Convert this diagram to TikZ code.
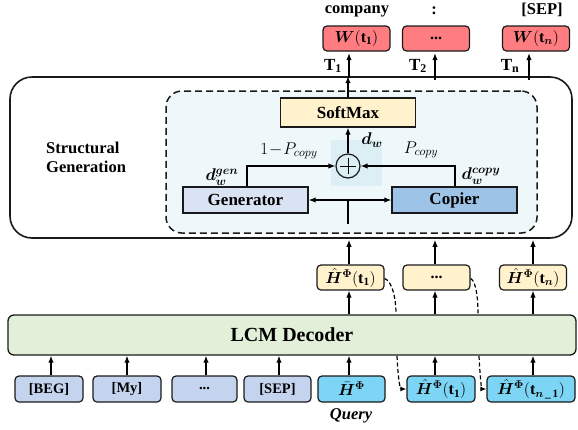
\documentclass[tikz,border=0pt]{standalone}
\usepackage{fix-cm}
\usepackage{amsmath,bm}
\usepackage{fontspec}
\setmainfont{Liberation Serif}
\usetikzlibrary{arrows.meta}

\definecolor{redbox}{HTML}{FF7C80}
\definecolor{sandbox}{HTML}{FFF2CC}
\definecolor{decoder}{HTML}{E2F0D9}
\definecolor{tokenbox}{HTML}{C5D4EE}
\definecolor{querybox}{HTML}{7DD5F6}
\definecolor{corefill}{HTML}{EEF7FA}
\definecolor{sumfill}{HTML}{DCEFF5}
\definecolor{genfill}{HTML}{DAE3F3}
\definecolor{copfill}{HTML}{9DC3E6}
\definecolor{edge}{HTML}{1A1A1A}

\tikzset{
  blk/.style={draw=edge, line width=1.2pt, rounded corners=4pt, inner sep=0pt,
    minimum height=25pt, font=\fontsize{16}{19}\selectfont\bfseries},
  flatblk/.style={draw=edge, line width=1.3pt, inner sep=0pt,
    font=\fontsize{17}{20}\selectfont\bfseries},
  tok/.style={blk, fill=tokenbox, minimum width=68pt, minimum height=26pt,
    font=\fontsize{14.5}{17}\selectfont\bfseries},
  qtok/.style={tok, fill=querybox, font=\fontsize{16}{18}\selectfont},
  hid/.style={blk, fill=sandbox, minimum width=67pt, font=\fontsize{16}{18}\selectfont},
  outb/.style={blk, fill=redbox, minimum width=67pt, font=\fontsize{16}{18}\selectfont},
  lbl/.style={inner sep=0pt, font=\fontsize{16.5}{19}\selectfont\bfseries},
  mlbl/.style={inner sep=0pt, font=\fontsize{17}{20}\selectfont},
  arr/.style={-{Latex[length=7pt,width=5.5pt]}, line width=1.3pt},
  dasharr/.style={-{Latex[length=6pt,width=5pt]}, line width=1.2pt, dash pattern=on 4pt off 2.5pt},
  dashline/.style={line width=1.2pt, dash pattern=on 4pt off 2.5pt},
}

\begin{document}
\begin{tikzpicture}[x=1pt,y=-1pt]
\useasboundingbox (0,0) rectangle (578,429);

% structural generation block
\node[draw=edge, line width=1.6pt, rounded corners=22pt, minimum width=562pt,
      minimum height=161pt, inner sep=0pt] (sg) at (291,157.5) {};
\node[lbl, anchor=west, align=left] (sgl) at (46,157) {Structural\\Generation};

% dashed core with generator / copier
\node[draw=edge, line width=1.5pt, dash pattern=on 7pt off 4pt, fill=corefill,
      rounded corners=16pt, minimum width=371pt, minimum height=142pt,
      inner sep=0pt] (core) at (351.5,162) {};
\node[fill=sumfill, minimum width=51pt, minimum height=46pt, inner sep=0pt] (hl) at (356.5,163) {};

\node[flatblk, fill=sandbox, minimum width=135pt, minimum height=29pt] (soft) at (348,112.5) {SoftMax};
\node[circle, draw=edge, line width=1.2pt, minimum size=24pt, inner sep=0pt] (sum) at (348,166) {};
\draw[line width=1pt] ([yshift=8pt]sum.center) -- ([yshift=-8pt]sum.center)
                      ([xshift=-8pt]sum.center) -- ([xshift=8pt]sum.center);

\node[flatblk, fill=genfill, minimum width=125pt, minimum height=26pt] (gen) at (245.5,200) {Generator};
\node[flatblk, fill=copfill, minimum width=125pt, minimum height=26pt] (cop) at (454.5,200) {Copier};

\coordinate (genx) at (247,0);
\coordinate (copx) at (455,0);
\coordinate (stem) at (348,224);

\draw[arr] (gen.north -| genx) |- (sum.west);
\draw[arr] (cop.north -| copx) |- (sum.east);
\draw[arr] (sum.north) -- (soft.south);
\draw[{Latex[length=7pt,width=5.5pt]}-{Latex[length=7pt,width=5.5pt]}, line width=1.3pt] (gen.east) -- (cop.west);
\draw[line width=1.3pt] (stem) -- (stem |- gen.east);

\node[mlbl] (pgen) at (289,151) {$1\!-\!P_{copy}$};
\node[mlbl] (pcop) at (421,150) {$P_{copy}$};
\node[mlbl] (dw) at (372,140) {$\bm{d_w}$};
\node[mlbl] (dgen) at (222,177) {$\bm{d_w^{gen}}$};
\node[mlbl] (dcop) at (481,176) {$\bm{d_w^{copy}}$};

% output words
\node[outb] (w1) at (356.5,38.5) {$\bm{W}(\mathbf{t}_{\mathbf{1}})$};
\node[outb] (w2) at (436,38.5) {\textbf{...}};
\node[outb] (wn) at (536,38.5) {$\bm{W}(\mathbf{t}_{\bm{n}})$};
\node[lbl] (o1) at (357,11) {company};
\node[lbl] (o2) at (434,11) {:};
\node[lbl] (on) at (542,10) {[SEP]};

\coordinate (tx1) at (349,0);
\coordinate (tx2) at (435,0);
\coordinate (txn) at (529,0);
\draw[arr] (soft.north) -- (sg.north -| soft.north);
\draw[arr] ([yshift=-2pt]sg.north -| tx1) -- ([yshift=-1.5pt]w1.south -| tx1);
\draw[arr] ([yshift=-4pt]sg.north -| tx2) -- ([yshift=-1.5pt]w2.south -| tx2);
\draw[arr] ([yshift=-4pt]sg.north -| txn) -- ([yshift=-1.5pt]wn.south -| txn);
\node[mlbl] (t1) at (333,66) {$\mathbf{T}_{\mathbf{1}}$};
\node[mlbl] (t2) at (418,66) {$\mathbf{T}_{\mathbf{2}}$};
\node[mlbl] (tn) at (510,66) {$\mathbf{T}_{\mathbf{n}}$};

% hidden states
\node[hid] (h1) at (350.5,277.5) {$\bm{\hat{H}}^{\bm{\Phi}}(\mathbf{t}_{\mathbf{1}})$};
\node[hid] (h2) at (436.5,277.5) {\textbf{...}};
\node[hid] (hn) at (533,277.5) {$\bm{\hat{H}}^{\bm{\Phi}}(\mathbf{t}_{\bm{n}})$};

% decoder
\node[draw=edge, line width=1.3pt, fill=decoder, rounded corners=6pt, minimum width=568pt,
      minimum height=40pt, inner sep=0pt, font=\fontsize{20}{24}\selectfont\bfseries] (dec) at (292,335) {LCM Decoder};

\coordinate (hx1) at (349,0);
\coordinate (hx2) at (435,0);
\coordinate (hxn) at (533,0);
\draw[arr] (dec.north -| hx1) -- (h1.south -| hx1);
\draw[arr] (dec.north -| hx2) -- (h2.south -| hx2);
\draw[arr] (dec.north -| hxn) -- (hn.south -| hxn);
\draw[arr] (h1.north -| hx1) -- ([yshift=-1pt]sg.south -| hx1);
\draw[arr] (h2.north -| hx2) -- ([yshift=-1pt]sg.south -| hx2);
\draw[arr] (hn.north -| hxn) -- ([yshift=-1pt]sg.south -| hxn);

% input tokens
\node[tok] (beg) at (49,389) {[BEG]};
\node[tok] (my) at (127,389) {[My]};
\node[tok, minimum width=65pt] (dots) at (204.5,389) {...};
\node[tok, minimum width=67pt] (sep) at (277.5,389) {[SEP]};
\node[qtok, minimum width=67pt] (q) at (351.5,389) {$\bm{\bar{H}}^{\bm{\Phi}}$};
\node[qtok] (g1) at (441,389) {$\bm{\hat{H}}^{\bm{\Phi}}(\mathbf{t}_{\mathbf{1}})$};
\node[qtok, minimum width=88pt] (gn) at (531,389) {$\bm{\hat{H}}^{\bm{\Phi}}(\mathbf{t}_{\bm{n}\,\textbf{\_}\,\mathbf{1}})$};
\node[lbl, font=\fontsize{16.5}{19}\selectfont\bfseries\itshape] (query) at (351,416) {Query};

\coordinate (bx1) at (51,0);
\coordinate (bx2) at (127,0);
\coordinate (bx3) at (206,0);
\coordinate (bx4) at (279,0);
\foreach \c/\n in {bx1/beg, bx2/my, bx3/dots, bx4/sep, hx1/q, hx2/g1, hxn/gn}
  \draw[arr] (\n.north -| \c) -- (dec.south -| \c);

% generated states fed back as inputs
\coordinate (fa) at (396,314);
\coordinate (fb) at (397,356);
\coordinate (fc) at (478,314);
\coordinate (fd) at (479,356);
\draw[dashline] ([yshift=-1pt]h1.east) .. controls (392,281) and (396,298) .. (fa);
\draw[dashline] ([yshift=-1pt]h2.east) .. controls (476,281) and (478,298) .. (fc);
\draw[dasharr] (fb) .. controls (398,378) and (400,389) .. (g1.west);
\draw[dasharr] (fd) .. controls (480,378) and (482,389) .. (gn.west);
\end{tikzpicture}
\end{document}
